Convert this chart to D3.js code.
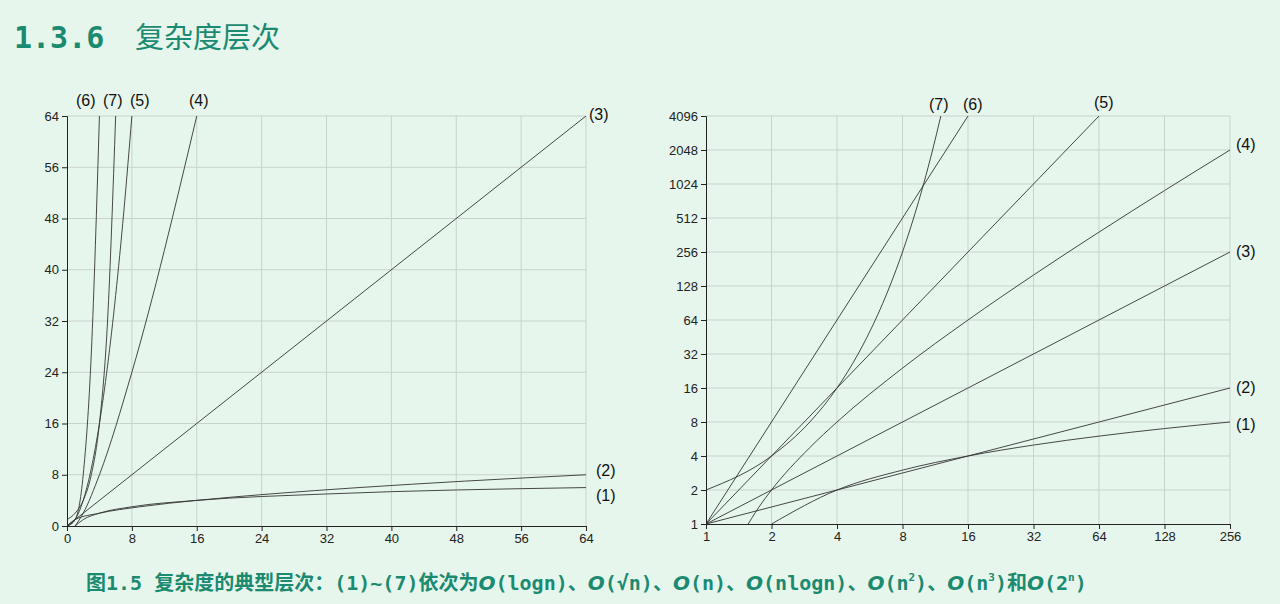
<!DOCTYPE html>
<html><head><meta charset="utf-8">
<script src="https://cdn.jsdelivr.net/npm/d3@7"></script>
<style>
body{margin:0;background:#e6f6ec;}
svg{display:block;font-family:"Liberation Sans","DejaVu Sans",sans-serif;}
</style></head><body>
<svg width="1280" height="604"></svg>
<script>
// Left panel (linear axes) curves
var leftSeries = [
	{label: '(1)', x: [1, 2, 4, 8, 16, 32, 64], y: [0, 1, 2, 3, 4, 5, 6]},
	{label: '(2)', x: [0, 1, 4, 9, 16, 25, 36, 49, 64], y: [0, 1, 2, 3, 4, 5, 6, 7, 8]},
	{label: '(3)', x: [0, 64], y: [0, 64]},
	{label: '(4)', x: [1, 2, 4, 8, 16], y: [0, 2, 8, 24, 64]},
	{label: '(5)', x: [0, 1, 2, 3, 4, 5, 6, 7, 8], y: [0, 1, 4, 9, 16, 25, 36, 49, 64]},
	{label: '(6)', x: [0, 1, 2, 3, 4], y: [0, 1, 8, 27, 64]},
	{label: '(7)', x: [0, 1, 2, 3, 4, 5, 6], y: [1, 2, 4, 8, 16, 32, 64]}
];
var leftTicks = [0, 8, 16, 24, 32, 40, 48, 56, 64];

// Right panel (log-log axes)
var rightSeries = [
	{label: '(1)', x: [2, 4, 8, 16, 32, 64, 128, 256], y: [1, 2, 3, 4, 5, 6, 7, 8]},
	{label: '(2)', x: [1, 256], y: [1, 16]},
	{label: '(3)', x: [1, 256], y: [1, 256]},
	{label: '(4)', x: [1.5, 1.75, 2, 3, 4, 8, 16, 32, 64, 128, 256], y: [0.877, 1.41, 2, 4.75, 8, 24, 64, 160, 384, 896, 2048]},
	{label: '(5)', x: [1, 64], y: [1, 4096]},
	{label: '(6)', x: [1, 16], y: [1, 4096]},
	{label: '(7)', x: [1, 2, 3, 4, 5, 6, 7, 8, 9, 10, 11, 12], y: [2, 4, 8, 16, 32, 64, 128, 256, 512, 1024, 2048, 4096]}
];
var rightXTicks = [1, 2, 4, 8, 16, 32, 64, 128, 256];
var rightYTicks = [1, 2, 4, 8, 16, 32, 64, 128, 256, 512, 1024, 2048, 4096];

var svg = d3.select('svg');
var teal = '#1a8a70';
var mono = '"DejaVu Sans Mono", monospace';
var cjk = '"Noto Sans CJK SC"';

// Title
svg.append('text').attr('x', 14).attr('y', 48).attr('fill', teal)
	.attr('font-size', 30).attr('font-weight', 'bold')
	.attr('font-family', mono).text('1.3.6');
svg.append('text').attr('x', 135).attr('y', 48).attr('fill', teal)
	.attr('font-size', 29).attr('font-family', cjk).text('复杂度层次');

function panel(id, x, y, series, xTicks, yTicks, labelPos) {
	var g = svg.append('g');
	var xr = x.range(), yr = y.range();
	g.append('clipPath').attr('id', id).append('rect')
		.attr('x', xr[0]).attr('y', yr[1]).attr('width', xr[1] - xr[0]).attr('height', yr[0] - yr[1]);

	// grid
	g.selectAll('.gx').data(xTicks.slice(1)).enter().append('line')
		.attr('x1', x).attr('x2', x).attr('y1', yr[0]).attr('y2', yr[1])
		.attr('stroke', '#c9d2cd').attr('stroke-width', 1);
	g.selectAll('.gy').data(yTicks.slice(1)).enter().append('line')
		.attr('y1', y).attr('y2', y).attr('x1', xr[0]).attr('x2', xr[1])
		.attr('stroke', '#c9d2cd').attr('stroke-width', 1);

	// axes
	var ax = g.append('g').attr('transform', 'translate(0,' + yr[0] + ')')
		.call(d3.axisBottom(x).tickValues(xTicks).tickFormat(d3.format('d')).tickSize(5));
	var ay = g.append('g').attr('transform', 'translate(' + xr[0] + ',0)')
		.call(d3.axisLeft(y).tickValues(yTicks).tickFormat(d3.format('d')).tickSize(5));
	[ax, ay].forEach(function(a) {
		a.selectAll('text').attr('font-size', 13).attr('fill', '#222');
		a.selectAll('line,path').attr('stroke', '#222');
	});

	// curves
	var line = d3.line().x(function(d) { return x(d[0]); }).y(function(d) { return y(d[1]); })
		.curve(d3.curveMonotoneX);
	var cg = g.append('g').attr('clip-path', 'url(#' + id + ')');
	series.forEach(function(s) {
		var pts = s.x.map(function(v, i) { return [v, s.y[i]]; });
		cg.append('path').attr('d', line(pts)).attr('fill', 'none')
			.attr('stroke', '#333').attr('stroke-width', 0.9);
	});

	// labels
	series.forEach(function(s) {
		var p = labelPos[s.label];
		g.append('text').attr('x', p[0]).attr('y', p[1]).attr('font-size', 16)
			.attr('fill', '#111').text(s.label);
	});
}

panel('clipL', d3.scaleLinear().domain([0, 64]).range([67, 586]),
	d3.scaleLinear().domain([0, 64]).range([526, 116]),
	leftSeries, leftTicks, leftTicks, {
		'(1)': [596, 501], '(2)': [596, 476], '(3)': [589, 120], '(4)': [189, 106],
		'(5)': [130, 106], '(6)': [76, 106], '(7)': [103, 106]
	});

panel('clipR', d3.scaleLog().base(2).domain([1, 256]).range([706, 1230]),
	d3.scaleLog().base(2).domain([1, 4096]).range([524, 116]),
	rightSeries, rightXTicks, rightYTicks, {
		'(1)': [1236, 430], '(2)': [1236, 393], '(3)': [1236, 257], '(4)': [1236, 150],
		'(5)': [1094, 108], '(6)': [963, 110], '(7)': [929, 110]
	});

// Caption: CJK parts in CJK font, latin parts in monospace
var capParts = [
	['图', cjk], ['1.5 ', mono], ['复杂度的典型层次：', cjk], ['(1)~(7)', mono], ['依次为', cjk],
	['O', 'it'], ['(logn)', mono], ['、', cjk],
	['O', 'it'], ['(√n)', mono], ['、', cjk],
	['O', 'it'], ['(n)', mono], ['、', cjk],
	['O', 'it'], ['(nlogn)', mono], ['、', cjk],
	['O', 'it'], ['(n', mono], ['2', 'sup'], [')', mono], ['、', cjk],
	['O', 'it'], ['(n', mono], ['3', 'sup'], [')', mono], ['和', cjk],
	['O', 'it'], ['(2', mono], ['n', 'sup'], [')', mono]
];
var cap = svg.append('text').attr('x', 86).attr('y', 590).attr('fill', teal)
	.attr('font-size', 20).attr('font-weight', 'bold');
var raised = false;
capParts.forEach(function(p) {
	var t = cap.append('tspan').text(p[0]);
	if (p[1] === 'it') {
		t.attr('font-style', 'italic').attr('font-family', '"DejaVu Sans"');
	} else if (p[1] === 'sup') {
		t.attr('font-size', 11).attr('dy', -9).attr('font-family', mono);
		raised = true;
		return;
	} else {
		t.attr('font-family', p[1]);
	}
	if (raised) { t.attr('dy', 9); raised = false; }
});
</script>
</body></html>
